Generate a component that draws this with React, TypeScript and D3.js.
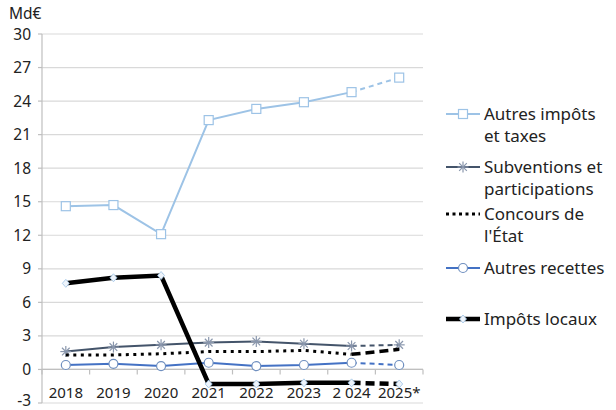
// @ts-nocheck
import * as d3 from 'd3';
import React from 'react';

const years = ['2018', '2019', '2020', '2021', '2022', '2023', '2024', '2025'];
const yearLabels = ['2018', '2019', '2020', '2021', '2022', '2023', '2 024', '2025*'];
const yTicks = [-3, 0, 3, 6, 9, 12, 15, 18, 21, 24, 27, 30];

const autresImpots = [14.6, 14.7, 12.1, 22.3, 23.3, 23.9, 24.8, 26.1];
const subventions = [1.6, 2.0, 2.2, 2.4, 2.5, 2.3, 2.1, 2.2];
const concours = [1.3, 1.3, 1.4, 1.6, 1.6, 1.7, 1.35, 1.8];
const autresRecettes = [0.4, 0.5, 0.3, 0.6, 0.3, 0.4, 0.6, 0.4];
const impotsLocaux = [7.7, 8.2, 8.4, -1.3, -1.3, -1.2, -1.2, -1.3];

const FONT = 'Noto Sans, sans-serif';

const series = [
  { name: ['Autres impôts', 'et taxes'], values: autresImpots, color: '#9dc3e6', width: 2, marker: 'square', legendY: 114 },
  { name: ['Subventions et', 'participations'], values: subventions, color: '#44546a', width: 2, marker: 'star', legendY: 167 },
  { name: ['Concours de', "l'État"], values: concours, color: '#000000', width: 3, marker: 'none', dotted: true, legendY: 214 },
  { name: ['Autres recettes'], values: autresRecettes, color: '#4472c4', width: 2, marker: 'circle', legendY: 268 },
  { name: ['Impôts locaux'], values: impotsLocaux, color: '#000000', width: 4.5, marker: 'diamond', legendY: 319 },
];

function Marker({ type, x, y }) {
  if (type === 'square')
    return <rect x={x - 4.5} y={y - 4.5} width={9} height={9} fill="#fff" stroke="#9dc3e6" strokeWidth={1.2} />;
  if (type === 'circle')
    return <circle cx={x} cy={y} r={4.5} fill="#fff" stroke="#6f8fbf" strokeWidth={1.2} />;
  if (type === 'diamond')
    return <path d={`M${x},${y - 4}L${x + 3.5},${y}L${x},${y + 4}L${x - 3.5},${y}Z`} fill="#eef4fb" stroke="#9dc3e6" strokeWidth={0.8} />;
  if (type === 'star') {
    const s = 5.5;
    return (
      <g stroke="#8a97ad" strokeWidth={1.2}>
        <line x1={x - s} y1={y} x2={x + s} y2={y} />
        <line x1={x - s * 0.7} y1={y - s * 0.7} x2={x + s * 0.7} y2={y + s * 0.7} />
        <line x1={x - s * 0.7} y1={y + s * 0.7} x2={x + s * 0.7} y2={y - s * 0.7} />
        <line x1={x} y1={y - s} x2={x} y2={y + s} />
      </g>
    );
  }
  return null;
}

export default function App() {
  const width = 616;
  const height = 410;
  const left = 42;
  const right = 423;

  const x = d3.scaleBand().domain(years).range([left, right]);
  const y = d3.scaleLinear().domain([-3, 30]).range([403, 34]);
  const cx = (i) => x(years[i]) + x.bandwidth() / 2;

  const line = d3
    .line<number>()
    .x((d, i) => cx(i))
    .y((d) => y(d));

  return (
    <svg width={width} height={height} style={{ position: 'absolute', left: 0, top: 0, background: '#fff' }}>
      {/* grid */}
      {yTicks.map((t) => (
        <g key={t}>
          <line x1={left} x2={right} y1={y(t)} y2={y(t)} stroke="#d9d9d9" strokeWidth={1.2} />
          <line x1={left - 4} x2={left} y1={y(t)} y2={y(t)} stroke="#bfbfbf" strokeWidth={1.2} />
          <text x={31} y={Math.min(y(t) + 5.5, 406)} textAnchor="end" fontSize={15.5} fontFamily={FONT} fill="#222">
            {t}
          </text>
        </g>
      ))}
      <line x1={left} x2={left} y1={y(30)} y2={y(-3)} stroke="#bfbfbf" strokeWidth={1.2} />
      <line x1={left} x2={right} y1={y(0)} y2={y(0)} stroke="#bfbfbf" strokeWidth={1.2} />
      {years.map((yr) => (
        <line key={yr} x1={x(yr)} x2={x(yr)} y1={y(0)} y2={y(0) + 5} stroke="#bfbfbf" strokeWidth={1.2} />
      ))}
      <line x1={right} x2={right} y1={y(0)} y2={y(0) + 5} stroke="#bfbfbf" strokeWidth={1.2} />
      <text x={9} y={19} fontSize={15.5} fontFamily={FONT} fill="#222">
        Md€
      </text>

      {/* x labels */}
      {yearLabels.map((lb, i) => (
        <text key={lb} x={cx(i)} y={398} textAnchor="middle" fontSize={15} fontFamily={FONT} fill="#222">
          {lb}
        </text>
      ))}

      {/* series */}
      {series.map((s, si) => {
        const solid = s.values.slice(0, 7);
        const last = s.values.slice(6, 8);
        const lastLine = d3
          .line<number>()
          .x((d, i) => cx(i + 6))
          .y((d) => y(d));
        return (
          <g key={si}>
            <path
              d={line(solid)}
              fill="none"
              stroke={s.color}
              strokeWidth={s.width}
              strokeDasharray={s.dotted ? '3 4.5' : null}
            />
            <path
              d={lastLine(last)}
              fill="none"
              stroke={s.color}
              strokeWidth={s.dotted ? 3.5 : s.width}
              strokeDasharray={s.width > 4 || s.dotted ? '9 5' : '5 4'}
            />
            {s.values.map((v, i) => (
              <Marker key={i} type={s.marker} x={cx(i)} y={y(v)} />
            ))}
          </g>
        );
      })}

      {/* legend */}
      {series.map((s, si) => (
        <g key={si}>
          <line
            x1={446}
            x2={480}
            y1={s.legendY}
            y2={s.legendY}
            stroke={s.color}
            strokeWidth={s.width}
            strokeDasharray={s.dotted ? '3 3.5' : null}
          />
          <Marker type={s.marker} x={463} y={s.legendY} />
          {s.name.map((n, k) => (
            <text key={k} x={484} y={s.legendY + 6 + k * 22} fontSize={17} fontFamily={FONT} fill="#222">
              {n}
            </text>
          ))}
        </g>
      ))}
    </svg>
  );
}
